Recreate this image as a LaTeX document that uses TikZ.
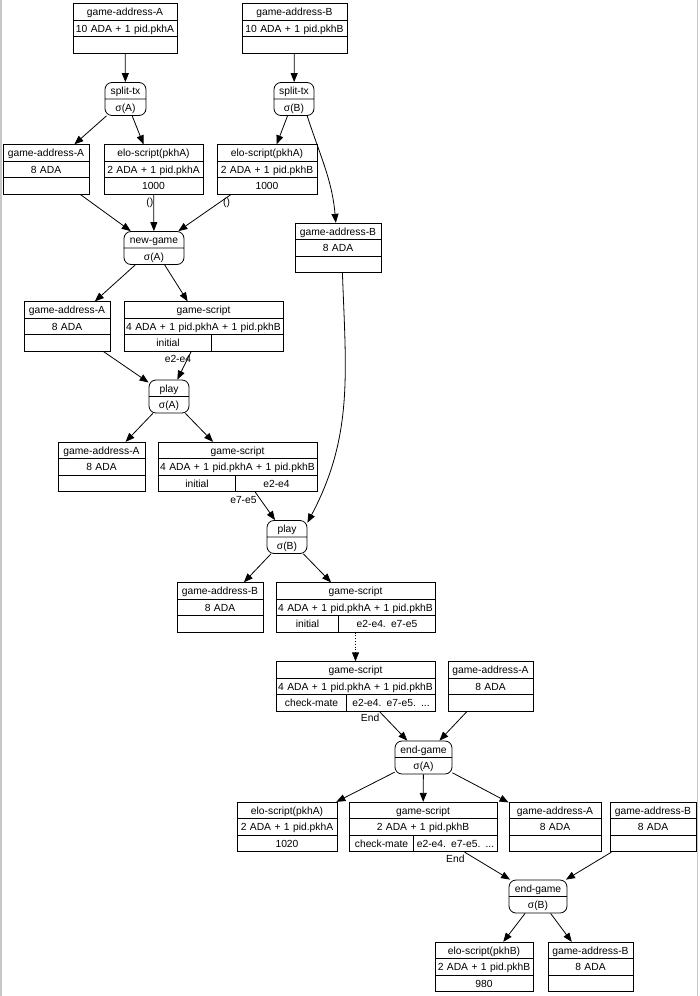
\documentclass[tikz,border=0pt]{standalone}
\usepackage{fontspec}
\setmainfont{Liberation Sans}
\usepackage{tikz}
\usetikzlibrary{arrows,arrows.meta,shapes.multipart,positioning}

\newcommand{\rowstrut}{\rule[-2.5pt]{0pt}{12.5pt}}
\newcommand{\recbox}[3]{#1\rowstrut\nodepart{two}#2\rowstrut\nodepart{three}#3\rowstrut}
\newcommand{\txbox}[2]{#1\rowstrut\nodepart{two}#2\rowstrut}

\begin{document}
\begin{tikzpicture}[
x=1pt, y=-1pt,
font=\fontsize{10.3}{12.5}\selectfont,
>={Triangle[length=9pt,width=7pt]},
rec/.style={draw, rectangle split, rectangle split parts=3, inner xsep=0pt, inner ysep=1.6pt, align=center, line width=0.8pt},
txn/.style={draw, rectangle split, rectangle split parts=2, rounded corners=7pt, inner xsep=0pt, inner ysep=1.6pt, align=center, line width=0.8pt},
flow/.style={->, line width=0.8pt},
lbl/.style={inner sep=0pt}
]
    \useasboundingbox (0,0) rectangle (700,996);
    % page edges
    \draw[gray!45, line width=1.2pt] (1,0) -- (1,996);
    \draw[gray!45, line width=1.2pt] (697.5,0) -- (697.5,996);

    % opening outputs
    \node[rec, text width=104pt] (gaA1) at (125,28.5) {\recbox{game-address-A}{10 ADA + 1 pid.pkhA}{}};
    \node[rec, text width=105pt] (gaB1) at (294.5,28.5) {\recbox{game-address-B}{10 ADA + 1 pid.pkhB}{}};

    \node[txn, text width=41pt] (splitA) at (125.5,99) {\txbox{split-tx}{σ(A)}};
    \node[txn, text width=40pt] (splitB) at (294,99) {\txbox{split-tx}{σ(B)}};

    \node[rec, text width=86pt] (gaA2) at (46,169.5) {\recbox{game-address-A}{8 ADA}{}};
    \node[rec, text width=99pt] (eloA1) at (153.5,169.5) {\recbox{elo-script(pkhA)}{2 ADA + 1 pid.pkhA}{1000}};
    \node[rec, text width=100pt] (eloB1) at (267,169.5) {\recbox{elo-script(pkhA)}{2 ADA + 1 pid.pkhB}{1000}};
    \node[rec, text width=86pt] (gaB2) at (338,248) {\recbox{game-address-B}{8 ADA}{}};

    \node[txn, text width=60pt] (newgame) at (154,248) {\txbox{new-game}{σ(A)}};

    \node[rec, text width=86pt] (gaA3) at (67,326.5) {\recbox{game-address-A}{8 ADA}{}};
    \node[rec, text width=159pt] (gs1) at (203.5,326.5) {\recbox{game-script}{4 ADA + 1 pid.pkhA + 1 pid.pkhB}{\makebox[88pt]{initial}\makebox[71pt]{}}};

    \node[txn, text width=40pt] (playA) at (169,396.5) {\txbox{play}{σ(A)}};

    \node[rec, text width=87pt] (gaA4) at (101.5,467) {\recbox{game-address-A}{8 ADA}{}};
    \node[rec, text width=159pt] (gs2) at (237.5,467) {\recbox{game-script}{4 ADA + 1 pid.pkhA + 1 pid.pkhB}{\makebox[78pt]{initial}\makebox[81pt]{e2-e4}}};

    \node[txn, text width=40pt] (playB) at (287,537) {\txbox{play}{σ(B)}};

    \node[rec, text width=86pt] (gaB3) at (220,607.5) {\recbox{game-address-B}{8 ADA}{}};
    \node[rec, text width=159pt] (gs3) at (355.5,607.5) {\recbox{game-script}{4 ADA + 1 pid.pkhA + 1 pid.pkhB}{\makebox[63pt]{initial}\makebox[96pt]{e2-e4. e7-e5}}};

    \node[rec, text width=159pt] (gs4) at (355.5,686.5) {\recbox{game-script}{4 ADA + 1 pid.pkhA + 1 pid.pkhB}{\makebox[71pt]{check-mate}\makebox[88pt]{e2-e4. e7-e5. ...}}};
    \node[rec, text width=85pt] (gaA5) at (490.5,686.5) {\recbox{game-address-A}{8 ADA}{}};

    \node[txn, text width=57pt] (endA) at (423.5,757.5) {\txbox{end-game}{σ(A)}};

    \node[rec, text width=100pt] (eloA2) at (287,827) {\recbox{elo-script(pkhA)}{2 ADA + 1 pid.pkhA}{1020}};
    \node[rec, text width=148pt] (gs5) at (423,827) {\recbox{game-script}{2 ADA + 1 pid.pkhB}{\makebox[65pt]{check-mate}\makebox[83pt]{e2-e4. e7-e5. ...}}};
    \node[rec, text width=92pt] (gaA6) at (555,827) {\recbox{game-address-A}{8 ADA}{}};
    \node[rec, text width=86pt] (gaB4) at (653,827) {\recbox{game-address-B}{8 ADA}{}};

    \node[txn, text width=58pt] (endB) at (538,896.5) {\txbox{end-game}{σ(B)}};

    \node[rec, text width=98pt] (eloB2) at (484,967) {\recbox{elo-script(pkhB)}{2 ADA + 1 pid.pkhB}{980}};
    \node[rec, text width=85pt] (gaB5) at (590.5,967) {\recbox{game-address-B}{8 ADA}{}};

    % cell rules in the datum rows
    \draw[line width=0.8pt] ([xshift=88pt]gs1.two split west) -- ([xshift=88pt]gs1.south west);
    \draw[line width=0.8pt] ([xshift=78pt]gs2.two split west) -- ([xshift=78pt]gs2.south west);
    \draw[line width=0.8pt] ([xshift=63pt]gs3.two split west) -- ([xshift=63pt]gs3.south west);
    \draw[line width=0.8pt] ([xshift=71pt]gs4.two split west) -- ([xshift=71pt]gs4.south west);
    \draw[line width=0.8pt] ([xshift=65pt]gs5.two split west) -- ([xshift=65pt]gs5.south west);

    % transactions
    \draw[flow] (gaA1) -- (splitA);
    \draw[flow] (gaB1) -- (splitB);
    \draw[flow] (splitA) -- (gaA2);
    \draw[flow] (splitA) -- (eloA1);
    \draw[flow] (splitB) -- (eloB1);
    \draw[flow] (splitB.-52) to[out=-72, in=95] (gaB2);
    \draw[flow] (gaA2) -- (newgame);
    \draw[flow] (eloA1) -- node[lbl, pos=0.23, left] {()} (newgame);
    \draw[flow] (eloB1) -- node[lbl, pos=0.23, right=4pt] {()} (newgame);
    \draw[flow] (newgame) -- (gaA3);
    \draw[flow] (newgame) -- (gs1);
    \draw[flow] (gaA3) -- (playA);
    \draw[flow] (gs1) -- node[lbl, pos=0.26, left=-4pt] {e2-e4} (playA);
    \draw[flow] (gaB2.-80) to[out=-88, in=62] (playB.35);
    \draw[flow] (playA) -- (gaA4);
    \draw[flow] (playA) -- (gs2);
    \draw[flow] (gs2) -- node[lbl, pos=0.29, left=4pt] {e7-e5} (playB);
    \draw[flow] (playB) -- (gaB3);
    \draw[flow] (playB) -- (gs3);
    \draw[flow, dotted] (gs3) -- (gs4);
    \draw[flow] (gs4) -- node[lbl, pos=0.22, left=6pt] {End} (endA);
    \draw[flow] (gaA5) -- (endA);
    \draw[flow] (endA) -- (eloA2);
    \draw[flow] (endA) -- (gs5);
    \draw[flow] (endA) -- (gaA6);
    \draw[flow] (gs5) -- node[lbl, pos=0.25, left=11pt] {End} (endB);
    \draw[flow] (gaB4) -- (endB);
    \draw[flow] (endB) -- (eloB2);
    \draw[flow] (endB) -- (gaB5);

\end{tikzpicture}
\end{document}
